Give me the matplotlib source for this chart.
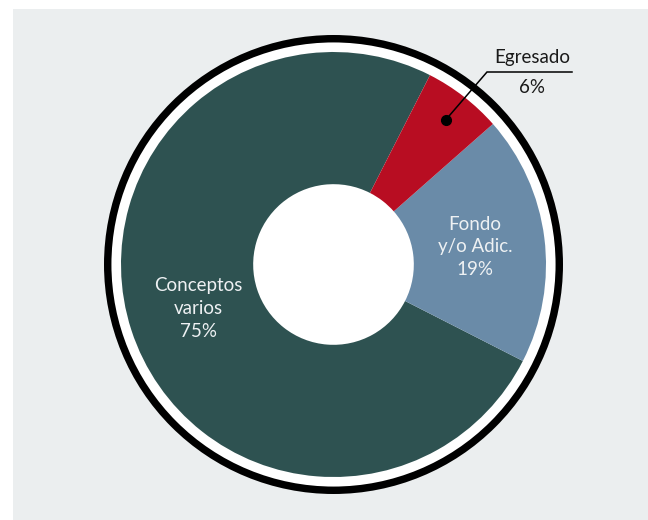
import numpy as np
import matplotlib
matplotlib.use("Agg")
import matplotlib.pyplot as plt
from matplotlib.patches import Circle, Rectangle

# ---- data ----
categories = ["Conceptos\nvarios", "Fondo\ny/o Adic.", "Egresado"]
values = [75, 19, 6]
pct_labels = ["75%", "19%", "6%"]
colors = ["#2E5251", "#6A8BA8", "#B80D22"]

plt.rcParams['font.family'] = ['Lato', 'DejaVu Sans']

W, H = 648, 520
fig = plt.figure(figsize=(W / 100, H / 100), dpi=100, facecolor="white")

ax = fig.add_axes([0, 0, 1, 1])
ax.set_facecolor("none")
scale = 212.5  # px per data unit (pie radius)
cx, cy = 333.5, 264.5  # center px from top-left

# gray panel
ax.add_patch(Rectangle((13 / W, 0), 1 - 13 / W, (H - 9) / H,
                       transform=fig.transFigure, facecolor="#EBEEEF",
                       edgecolor="none", zorder=0, clip_on=False))

# outer ring
ax.add_patch(Circle((0, 0), 1.08, facecolor="black", edgecolor="none", zorder=1))
ax.add_patch(Circle((0, 0), 1.045, facecolor="white", edgecolor="none", zorder=1))

wedges, _ = ax.pie(values, colors=colors, startangle=63, counterclock=True,
                   radius=1.0, wedgeprops=dict(width=1 - 0.378, linewidth=0),
                   center=(0, 0), frame=True)
for w in wedges:
    w.set_zorder(2)
ax.set_xlim(-cx / scale, (W - cx) / scale)
ax.set_ylim(-(H - cy) / scale, cy / scale)
ax.set_aspect("auto")
ax.axis("off")

# inner labels
for i in (0, 1):
    w = wedges[i]
    mid = np.deg2rad((w.theta1 + w.theta2) / 2)
    r = 0.67
    ax.text(r * np.cos(mid), r * np.sin(mid),
            categories[i] + "\n" + pct_labels[i],
            ha="center", va="center", fontsize=13.5, color="#EEF1F3",
            linespacing=1.4, zorder=5)

# Egresado callout
w = wedges[2]
mid = np.deg2rad((w.theta1 + w.theta2) / 2)
dx, dy = 0.86 * np.cos(mid), 0.86 * np.sin(mid)
ax.plot([dx], [dy], "o", color="black", ms=7, zorder=6)
kx, ky = (487 - cx) / scale, (cy - 72) / scale
ex = (572 - cx) / scale
ax.plot([dx, kx, ex], [dy, ky, ky], color="black", lw=1.1, zorder=6,
        solid_joinstyle="miter")
tx = (532 - cx) / scale
ax.text(tx, ky + 0.03, categories[2], ha="center", va="bottom",
        fontsize=13.5, color="#1a1a1a", zorder=6)
ax.text(tx, ky - 0.035, pct_labels[2], ha="center", va="top",
        fontsize=13.5, color="#1a1a1a", zorder=6)

fig.savefig("out.png", dpi=100, facecolor="white")
